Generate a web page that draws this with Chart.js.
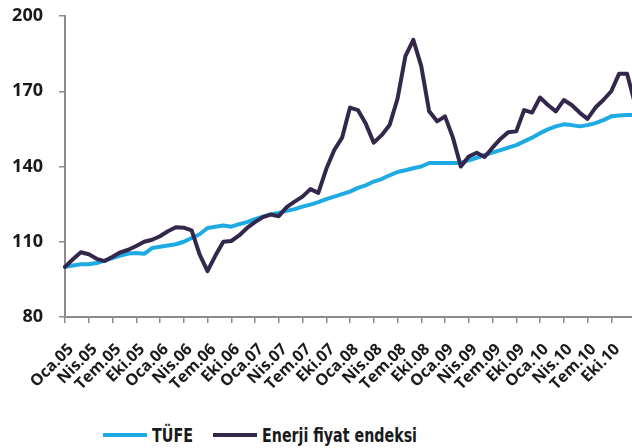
<!DOCTYPE html>
<html>
<head>
<meta charset="utf-8">
<script src="https://cdn.jsdelivr.net/npm/chart.js@4.4.1/dist/chart.umd.min.js"></script>
<style>
  html, body { margin: 0; padding: 0; background: #fff; }
  body { width: 632px; height: 448px; overflow: hidden; position: relative; }
  #wrap { position: absolute; left: 0; top: 0; width: 640px; height: 412px; }
  #legend { position: absolute; left: 103px; top: 423px; display: flex; align-items: center; white-space: nowrap;
    font-family: "DejaVu Sans Condensed", sans-serif; font-size: 20px; font-weight: bold; color: #1a1a1a; }
  #legend .sw { display: inline-block; flex: none; width: 44px; height: 4px; margin-right: 5px; }
  #legend .item { display: flex; align-items: center; margin-right: 20px; }
  #legend .box { display: inline-block; flex: none; overflow: visible; }
  #legend .txt { display: inline-block; transform-origin: left center; }
</style>
</head>
<body>
<div id="wrap"><canvas id="chart" width="640" height="412"></canvas></div>
<div id="legend"></div>
<script>
  // Months (Turkish short names) and years of the category axis
  const months = ["Oca", "Şub", "Mar", "Nis", "May", "Haz", "Tem", "Ağu", "Eyl", "Eki", "Kas", "Ara"];
  const years = ["05", "06", "07", "08", "09", "10", "11"];

  // Series, monthly, Oca.05 .. Oca.11 (2005 = 100)
  const tufe = [
    100, 100.5, 101, 101, 101.5, 102.5, 103.5, 104.5, 105.3, 105.5, 105.2, 107.5,
    108, 108.5, 109, 110, 111.5, 113, 115.5, 116, 116.5, 116, 117, 117.8,
    119, 120, 121, 121.5, 122.3, 123, 124, 124.8, 125.8, 127, 128, 129,
    130, 131.5, 132.5, 134, 135, 136.5, 137.8, 138.5, 139.3, 140, 141.4, 141.4,
    141.4, 141.4, 141.4, 142.5, 143.5, 144.5, 145.5, 146.5, 147.5, 148.5, 150, 151.5,
    153.3, 154.8, 156, 156.8, 156.5, 156, 156.5, 157.3, 158.5, 160, 160.3, 160.5,
    160.5
  ];
  const enerji = [
    100, 103, 105.8, 105, 103.2, 102.3, 104, 105.8, 106.8, 108.3, 110, 110.8,
    112.2, 114.2, 115.8, 115.6, 114.5, 105, 98.3, 104.5, 110, 110.3, 112.5, 115.5,
    117.8, 119.8, 120.8, 120.2, 123.8, 126, 128, 131, 129.5, 139, 146.5, 151.5,
    163.5, 162.5, 157, 149.5, 152.5, 156.5, 167, 184, 190.5, 180, 162, 158,
    160, 151.5, 140, 144, 145.5, 143.8, 147.5, 151, 153.7, 154, 162.5, 161.5,
    167.5, 164.5, 162, 166.5, 164.5, 161.5, 159, 163.5, 166.5, 170, 177, 177,
    165
  ];

  const labels = [];
  years.forEach(y => months.forEach(m => labels.push(`${m}.${y}`)));
  labels.length = tufe.length;

  // Axis labels shown every 3rd month, last shown one is Eki.10
  const lastTick = 69;
  const showTick = (i) => i % 3 === 0 && i <= lastTick;

  const BLUE = "#1eaae2";
  const DARK = "#33274c";
  const AXIS = "#8c8c8c";
  const TXT = "#1a1a1a";

  new Chart(document.getElementById("chart"), {
    type: "line",
    data: {
      labels,
      datasets: [
        { label: "TÜFE", data: tufe, borderColor: BLUE, borderWidth: 4, order: 1 },
        { label: "Enerji fiyat endeksi", data: enerji, borderColor: DARK, borderWidth: 4, order: 0 }
      ]
    },
    options: {
      responsive: false,
      animation: false,
      layout: { padding: { top: 0, right: 5, left: 0, bottom: 0 } },
      elements: {
        point: { radius: 0 },
        line: { tension: 0, borderJoinStyle: "round", borderCapStyle: "round" }
      },
      plugins: { legend: { display: false }, tooltip: { enabled: false } },
      scales: {
        x: {
          offset: false,
          border: { color: AXIS, width: 2 },
          grid: {
            drawOnChartArea: false,
            tickLength: 6,
            lineWidth: 1.5,
            color: (ctx) => showTick(ctx.index) ? AXIS : "rgba(0,0,0,0)"
          },
          ticks: {
            autoSkip: false,
            maxRotation: 45,
            minRotation: 45,
            padding: 17,
            labelOffset: 6,
            color: TXT,
            font: { family: "'Open Sans', sans-serif", size: 16, weight: "bold" },
            callback: (v, i) => showTick(i) ? labels[i] : ""
          },
          afterFit: (s) => { s.height = 95; s.paddingLeft = 0; s.paddingRight = 0; }
        },
        y: {
          min: 80,
          max: 200,
          border: { color: AXIS, width: 2 },
          grid: { drawOnChartArea: false, tickLength: 6, lineWidth: 1.5, color: AXIS },
          ticks: {
            stepSize: 30,
            padding: 16,
            color: TXT,
            font: { family: "'Open Sans', sans-serif", size: 18, weight: "bold" }
          },
          afterFit: (s) => { s.width = 65; s.paddingTop = 16; s.paddingBottom = 0; }
        }
      }
    }
  });

  // Legend below the plot
  const legendEl = document.getElementById("legend");
  [["TÜFE", BLUE, 41], ["Enerji fiyat endeksi", DARK, 155]].forEach(([name, color, w]) => {
    const item = document.createElement("span");
    item.className = "item";
    item.innerHTML = `<span class="sw" style="background:${color}"></span><span class="box"><span class="txt">${name}</span></span>`;
    legendEl.appendChild(item);
    // squeeze the text to the condensed width of the original legend
    const txt = item.querySelector(".txt");
    const box = item.querySelector(".box");
    const k = w / txt.getBoundingClientRect().width;
    txt.style.transform = `scaleX(${k})`;
    box.style.width = `${w}px`;
  });
</script>
</body>
</html>
